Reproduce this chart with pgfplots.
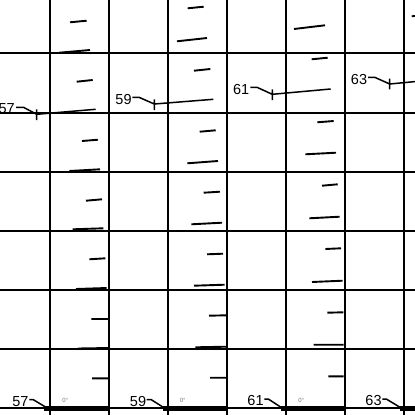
\documentclass[border=0pt]{standalone}
\usepackage{pgfplots}
\pgfplotsset{compat=1.18}
\usepackage{fontspec}
\setmainfont{Liberation Sans}
\begin{document}
\begin{tikzpicture}
\begin{axis}[
  width=415pt, height=415pt, scale only axis,
  xmin=0, xmax=415, ymin=0, ymax=415, y dir=reverse,
  hide axis, clip=true, unbounded coords=jump,
  every axis plot/.append style={line cap=butt},
]
% grid
\addplot[black, line width=2pt] coordinates {
 (50,-5) (50,420) (nan,nan) (108.7,-5) (108.7,420) (nan,nan)
 (167.7,-5) (167.7,420) (nan,nan) (226.7,-5) (226.7,420) (nan,nan)
 (285.8,-5) (285.8,420) (nan,nan) (344.8,-5) (344.8,420) (nan,nan)
 (404,-5) (404,420)};
\addplot[black, line width=2pt] coordinates {
 (-5,53.4) (420,53.4) (nan,nan) (-5,113) (420,113) (nan,nan)
 (-5,172) (420,172) (nan,nan) (-5,230.8) (420,230.8) (nan,nan)
 (-5,290) (420,290) (nan,nan) (-5,349) (420,349) (nan,nan)
 (-5,408.2) (420,408.2)};
% segments
\addplot[black, line width=1.9pt] coordinates {
 (70,22.3) (86.7,20.7) (nan,nan)
 (59.3,52.7) (90,50) (nan,nan)
 (76.7,81.7) (92.7,80) (nan,nan)
 (82,141) (98,139.7) (nan,nan)
 (69.3,171) (100,169.3) (nan,nan)
 (86,200.7) (102,199.3) (nan,nan)
 (72.7,229.3) (103.3,228.3) (nan,nan)
 (89.3,259.3) (105.3,258.3) (nan,nan)
 (76,289) (106.7,288) (nan,nan)
 (91.3,319) (108,319) (nan,nan)
 (78,348.5) (108.7,348) (nan,nan)
 (92,378.3) (108.7,378.3) (nan,nan)
 (187.7,8.3) (203.7,6.7) (nan,nan)
 (177,41.3) (207,38) (nan,nan)
 (194,70.7) (210.3,69) (nan,nan)
 (199.7,131.7) (215.7,130.3) (nan,nan)
 (187.3,163.3) (218,161) (nan,nan)
 (203.7,192.7) (220,191.7) (nan,nan)
 (191.3,224.3) (222,222.7) (nan,nan)
 (207,254.3) (223,253.7) (nan,nan)
 (194,285.7) (224.7,284.7) (nan,nan)
 (209,315.7) (226,315.3) (nan,nan)
 (195.3,347.3) (226,346.7) (nan,nan)
 (210,377.7) (226.3,377.7) (nan,nan)
 (294,29) (325,25.3) (nan,nan)
 (311.7,59.3) (327.7,57.7) (nan,nan)
 (317.3,122.3) (333.7,121) (nan,nan)
 (305.3,154.3) (336,152.7) (nan,nan)
 (322,185.7) (337.7,184.3) (nan,nan)
 (309.3,218.3) (339.7,216.7) (nan,nan)
 (325.3,249) (341,248.3) (nan,nan)
 (312,282) (342.7,280.7) (nan,nan)
 (327.3,312.7) (343.3,312.3) (nan,nan)
 (313.7,344.7) (343.7,344.7) (nan,nan)
 (328.3,376.3) (343.7,376.3) (nan,nan)
 (411.7,16.3) (418,15.6)};
% label lines
\addplot[black, line width=1.5pt] coordinates {
 (16,107.3) (23.5,107.3) (36.7,114.3) (95.7,109.3) (nan,nan)
 (36.7,109.3) (36.7,120) (nan,nan)
 (132.3,97.3) (139,97.3) (154.3,104) (213.3,99.3) (nan,nan)
 (154.3,99.3) (154.3,110) (nan,nan)
 (250.3,87.3) (257,87.3) (272.3,94.3) (330.7,89) (nan,nan)
 (272.3,89.3) (272.3,100) (nan,nan)
 (368,77.3) (374.7,77.3) (389.7,84) (418,81.3) (nan,nan)
 (389.7,78.7) (389.7,89.3) (nan,nan)
 (29.3,399.7) (33.3,399.7) (46,407.3) (nan,nan)
 (146.7,399.7) (151.3,399.7) (163.3,407.3) (nan,nan)
 (264.3,399) (268.3,399) (281,407.3) (nan,nan)
 (382.3,399) (386.3,399) (400,407.3)};
% bottom bars
\addplot[black, line width=5pt] coordinates {
 (44,408.2) (108.7,408.2) (nan,nan)
 (162.5,408.2) (226.7,408.2) (nan,nan)
 (281,408.2) (344.8,408.2) (nan,nan)
 (400,408.2) (420,408.2)};
% labels
\begin{scope}[every node/.style={inner sep=0pt, anchor=base east, font=\fontsize{14.5}{15}\selectfont}]
\node at (axis cs:15,113.3) {57};
\node at (axis cs:131.8,104.3) {59};
\node at (axis cs:249.5,94.3) {61};
\node at (axis cs:367.3,84) {63};
\node at (axis cs:28.6,406) {57};
\node at (axis cs:146.3,406) {59};
\node at (axis cs:263.8,405.5) {61};
\node at (axis cs:381.8,405.5) {63};
\end{scope}
\begin{scope}[every node/.style={inner sep=0pt, anchor=base, text=black!55, font=\fontsize{6}{7}\selectfont}]
\node at (axis cs:65.3,402) {0°};
\node at (axis cs:182.7,402) {0°};
\node at (axis cs:301.3,402) {0°};
\end{scope}
\end{axis}
\pgfresetboundingbox
\useasboundingbox (current axis.south west) rectangle (current axis.north east);
\end{tikzpicture}
\end{document}
